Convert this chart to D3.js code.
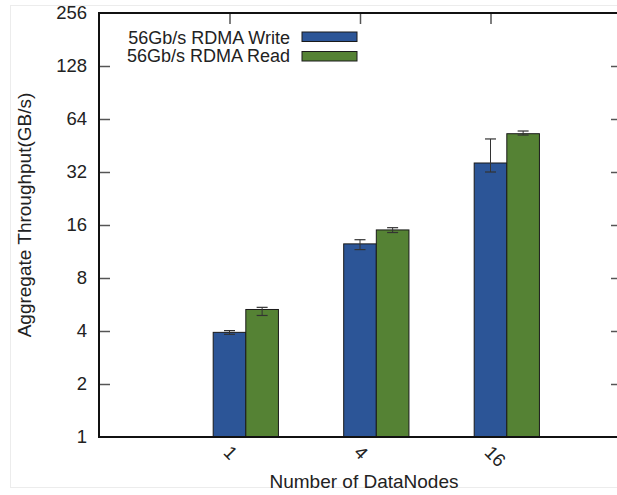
<!DOCTYPE html>
<html><head><meta charset="utf-8">
<script src="https://cdn.jsdelivr.net/npm/d3@7"></script>
<style>body{margin:0;background:#fff}svg{display:block}text{font-family:"Liberation Sans",Arial,sans-serif;fill:#222}</style>
</head><body><svg id="c" width="617" height="495"></svg>
<script>
const categories = ["1", "4", "16"];
const seriesNames = ["56Gb/s RDMA Write", "56Gb/s RDMA Read"];
const writeVals = [3.93, 12.5, 36.0];
const writeLow = [3.83, 11.6, 32.0];
const writeHigh = [4.02, 13.2, 49.3];
const readVals = [5.3, 15.0, 52.8];
const readLow = [4.9, 14.5, 51.9];
const readHigh = [5.45, 15.45, 54.7];
const yTicks = [1, 2, 4, 8, 16, 32, 64, 128, 256];
const colors = ["#2c5597", "#558234"];

const svg = d3.select("#c");
const L = 99, R = 621, T = 13, B = 437;
const x = d3.scaleLinear().domain([-1, 3]).range([L, R]);
const y = d3.scaleLog().base(2).domain([1, 256]).range([B, T]);

// faint outer frame
svg.append("rect").attr("x", 10.5).attr("y", 5.5).attr("width", 620).attr("height", 482)
  .attr("fill", "none").attr("stroke", "#ececec").attr("stroke-width", 1);

const series = [
  {vals: writeVals, lo: writeLow, hi: writeHigh, off: -0.125},
  {vals: readVals, lo: readLow, hi: readHigh, off: 0.125}
];
const bw = 0.25;

series.forEach((s, si) => {
  const g = svg.append("g");
  g.selectAll("rect").data(categories).join("rect")
    .attr("x", (d, i) => x(i + s.off))
    .attr("y", (d, i) => y(s.vals[i]))
    .attr("width", x(bw) - x(0))
    .attr("height", (d, i) => y(1) - y(s.vals[i]))
    .attr("fill", colors[si]).attr("stroke", "#1a1a1a").attr("stroke-width", 1);
  const cx = i => x(i + s.off + bw / 2);
  g.selectAll("line.v").data(categories).join("line").attr("class", "v")
    .attr("x1", (d, i) => cx(i)).attr("x2", (d, i) => cx(i))
    .attr("y1", (d, i) => y(s.lo[i])).attr("y2", (d, i) => y(s.hi[i]))
    .attr("stroke", "#333").attr("stroke-width", 1);
  ["lo", "hi"].forEach(k => {
    g.selectAll("line." + k).data(categories).join("line").attr("class", k)
      .attr("x1", (d, i) => cx(i) - 5.5).attr("x2", (d, i) => cx(i) + 5.5)
      .attr("y1", (d, i) => y(s[k][i])).attr("y2", (d, i) => y(s[k][i]))
      .attr("stroke", "#333").attr("stroke-width", 1.2);
  });
});

// axes
const tickIdx = categories.map((d, i) => i);
const yl = svg.append("g").attr("transform", `translate(${L},0)`)
  .call(d3.axisLeft(y).tickValues(yTicks).tickFormat(d3.format("d")).tickSize(-11));
const yr = svg.append("g").attr("transform", `translate(${R},0)`)
  .call(d3.axisRight(y).tickValues(yTicks.slice(1, -1)).tickSize(-10).tickFormat(""));
const xt = svg.append("g").attr("transform", `translate(0,${T})`)
  .call(d3.axisTop(x).tickValues(tickIdx).tickSize(-11).tickFormat(""));
const xb = svg.append("g").attr("transform", `translate(0,${B})`)
  .call(d3.axisBottom(x).tickValues(tickIdx).tickSize(0).tickFormat(i => categories[i]));
[yl, yr, xt, xb].forEach(a => {
  a.select(".domain").remove();
  a.selectAll(".tick line").attr("stroke", "#555").attr("stroke-width", 1.5);
  a.selectAll("text").style("font-size", "18.5px").attr("fill", "#222");
});
yl.selectAll(".tick text").attr("x", -12);
yl.selectAll(".tick").filter(d => d === 1 || d === 256).select("line").remove();
xb.selectAll(".tick text").attr("text-anchor", "start").attr("dy", null)
  .attr("transform", "translate(-4,13) rotate(45)").attr("y", 0).attr("x", 0)
  .attr("dominant-baseline", "middle");

// border
svg.append("path").attr("d", `M${R},${T}H${L}V${B}H${R}`)
  .attr("fill", "none").attr("stroke", "#111").attr("stroke-width", 2);

// axis titles
svg.append("text").attr("x", 364).attr("y", 488).attr("text-anchor", "middle")
  .style("font-size", "19px").text("Number of DataNodes");
svg.append("text").attr("transform", `translate(31,${(93 + 337) / 2}) rotate(-90)`)
  .attr("text-anchor", "middle").style("font-size", "19px").text("Aggregate Throughput(GB/s)");

// legend
seriesNames.forEach((n, i) => {
  svg.append("text").attr("x", 290).attr("y", 38 + i * 18).attr("text-anchor", "end")
    .attr("dominant-baseline", "central").style("font-size", "18px").text(n);
  svg.append("rect").attr("x", 302).attr("y", 32 + i * 19.5).attr("width", 55).attr("height", 9.5)
    .attr("fill", colors[i]).attr("stroke", "#1a1a1a").attr("stroke-width", 1);
});
</script></body></html>
